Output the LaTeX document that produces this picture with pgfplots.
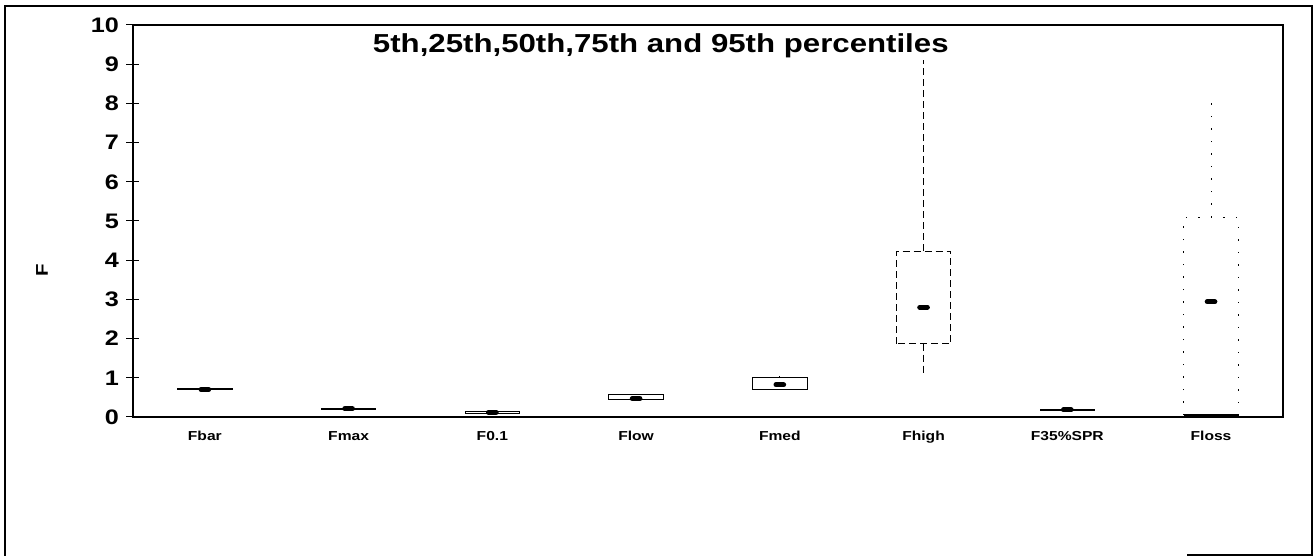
\documentclass[border=0pt]{standalone}
\usepackage{fontspec}
\setmainfont{Liberation Sans}[FakeStretch=1.2]
\usepackage{pgfplots}
\pgfplotsset{compat=1.18}
\usepgfplotslibrary{statistics}
\begin{document}
\begin{tikzpicture}[x=1pt,y=1pt]
\begin{axis}[name=ax, at={(0,0)}, anchor=south west,
  scale only axis, width=1150pt, height=392pt,
  xmin=0.5, xmax=8.5, ymin=0, ymax=10,
  xtick={1,2,3,4,5,6,7,8},
  xticklabels={Fbar,Fmax,F0.1,Flow,Fmed,Fhigh,F35\%SPR,Floss},
  major x tick style={draw=none},
  ytick={0,1,2,3,4,5,6,7,8,9,10},
  ytick pos=left,
  tick align=center, major tick length=13pt,
  ytick style={line width=1pt, black},
  axis line style={line width=1.6pt},
  /pgf/number format/assume math mode=true,
  yticklabel style={font=\fontsize{21}{21}\selectfont\bfseries, xshift=-4pt},
  xticklabel style={font=\fontsize{13}{13}\selectfont\bfseries, anchor=base, yshift=-17pt},
  boxplot/draw direction=y,
  boxplot/box extend=0.38,
  boxplot/whisker extend=0,
  boxplot/draw/median/.code={%
    \draw[solid, line width=5pt, line cap=round, black]
      (boxplot box cs:\pgfplotsboxplotvalue{median},0.43) --
      (boxplot box cs:\pgfplotsboxplotvalue{median},0.57);},
  clip=false,
]
% Fbar
\addplot[draw=black, line width=0.9pt, boxplot prepared={draw position=1,
  lower whisker=0.68, lower quartile=0.70, median=0.70, upper quartile=0.72, upper whisker=0.74}] coordinates {};
% Fmax
\addplot[draw=black, line width=0.9pt, boxplot prepared={draw position=2,
  lower whisker=0.17, lower quartile=0.19, median=0.21, upper quartile=0.22, upper whisker=0.24}] coordinates {};
% F0.1
\addplot[draw=black, line width=0.9pt, boxplot prepared={draw position=3,
  lower whisker=0.08, lower quartile=0.10, median=0.12, upper quartile=0.13, upper whisker=0.15}] coordinates {};
% Flow
\addplot[draw=black, line width=0.9pt, boxplot prepared={draw position=4,
  lower whisker=0.42, lower quartile=0.44, median=0.47, upper quartile=0.57, upper whisker=0.58}] coordinates {};
% Fmed
\addplot[draw=black, line width=0.9pt, boxplot prepared={draw position=5,
  lower whisker=0.68, lower quartile=0.71, median=0.82, upper quartile=1.02, upper whisker=1.05}] coordinates {};
% Fhigh
\addplot[draw=black, line width=0.9pt, dash pattern=on 7pt off 4pt, boxplot prepared={draw position=6,
  lower whisker=1.07, lower quartile=1.87, median=2.80, upper quartile=4.23, upper whisker=9.10}] coordinates {};
% F35%SPR
\addplot[draw=black, line width=0.9pt, boxplot prepared={draw position=7,
  lower whisker=0.15, lower quartile=0.16, median=0.18, upper quartile=0.19, upper whisker=0.21}] coordinates {};
% Floss
\addplot[draw=black, line width=0.9pt, dash pattern=on 1.5pt off 11pt, boxplot prepared={draw position=8,
  lower whisker=0.02, lower quartile=0.05, median=2.94, upper quartile=5.10, upper whisker=8.20}] coordinates {};
% Floss lower quartile edge (solid, thick as in the chart)
\addplot[black, line width=2.5pt, no marks] coordinates {(7.81,0.05) (8.19,0.05)};

\node[anchor=base, font=\fontsize{26}{26}\selectfont\bfseries] at (axis description cs:0.459,0.931)
  {5th,25th,50th,75th and 95th percentiles};
\node[rotate=90, font=\fontsize{17}{17}\selectfont\bfseries] at (axis description cs:-0.0791,0.375) {F};
\end{axis}
\draw[line width=2pt] (-128,-139) -- (-128,411) -- (1179,411) -- (1179,-139);
\draw[line width=1.5pt] (1054,-138) -- (1180,-138);
\pgfresetboundingbox
\path[use as bounding box] (-133,-139) rectangle (1181,417);
\end{tikzpicture}
\end{document}
